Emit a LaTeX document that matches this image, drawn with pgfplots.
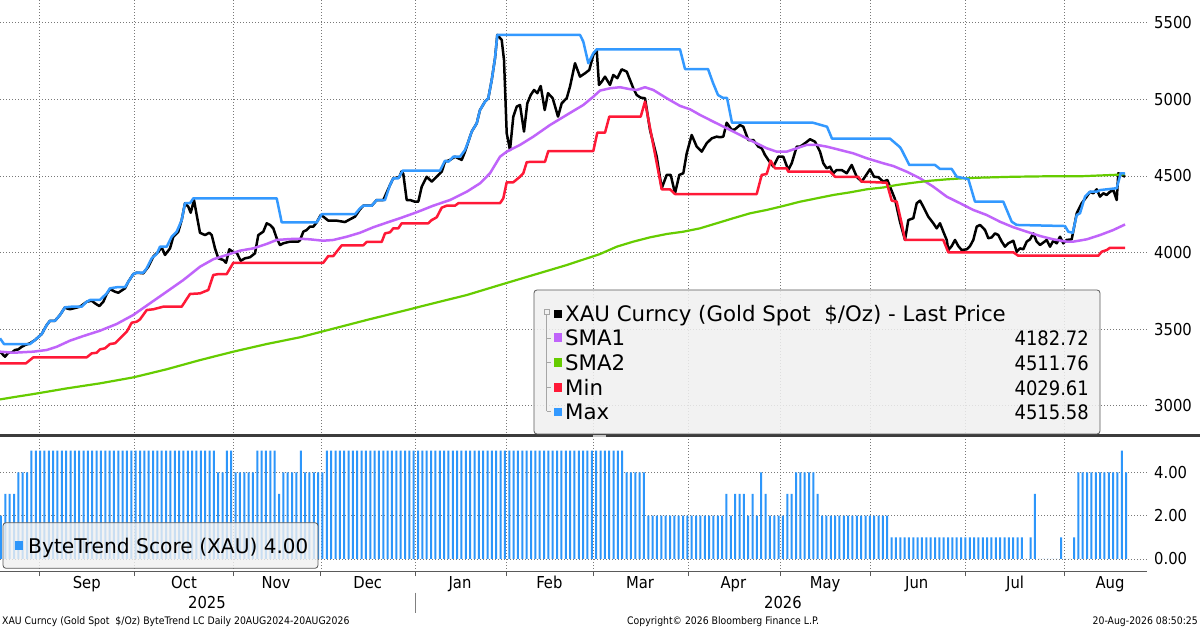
\documentclass[border=0pt]{standalone}
\usepackage{pgfplots}
\pgfplotsset{compat=1.18}
\usepackage{fontspec}
\setmainfont{DejaVu Sans Condensed}
\newfontfamily\wide{DejaVu Sans}
\definecolor{maxblue}{RGB}{51,153,255}
\definecolor{barblue}{RGB}{45,150,250}
\definecolor{minred}{RGB}{255,25,55}
\definecolor{smapurple}{RGB}{192,100,250}
\definecolor{smagreen}{RGB}{102,204,0}
\definecolor{gridgray}{RGB}{120,120,120}
\definecolor{sepgray}{RGB}{60,60,60}
\definecolor{axgray}{RGB}{90,90,90}
\definecolor{legfill}{RGB}{240,240,240}
\definecolor{legdraw}{RGB}{90,90,90}
\newcommand{\ticksize}{\fontsize{16.5}{18}\selectfont}
\newcommand{\legsize}{\fontsize{21.4}{23}\selectfont\wide}
\newcommand{\legsizeb}{\fontsize{20.3}{23}\selectfont\wide}
\newcommand{\legnum}{\fontsize{20}{22}\selectfont}
\newcommand{\footsize}{\fontsize{10.4}{12}\selectfont}
\pgfplotsset{
  bbgrid/.style={grid=major, major grid style={draw=gridgray, line width=0.9bp, dash pattern=on 1bp off 2bp}},
}
\begin{document}
\begin{tikzpicture}
\fill[white] (0bp,0bp) rectangle (1200bp,627bp);
% ---------------- top panel ----------------
\begin{axis}[
  at={(0bp,191bp)}, anchor=south west,
  width=1147bp, height=436bp, scale only axis,
  xmin=0, xmax=1147, ymin=2801, ymax=5650,
  axis line style={draw=none},
  bbgrid,
  xtick={39.3,134.7,233.3,321,415.5,506.7,593.3,688.3,780,870,965.7,1064.7},
  xticklabels={},
  xtick style={draw=none},
  ytick={3000,3500,4000,4500,5000,5500},
  ytick style={draw=none},
  yticklabel pos=right,
  yticklabel style={anchor=west, font=\ticksize, inner sep=0pt, xshift=7bp},
  /pgf/number format/assume math mode=true,
  /pgf/number format/1000 sep={},
  line join=round,
]
% Last price
\addplot[black, line width=2.5bp] coordinates {
(0,3352) (3.3,3330) (5,3319) (8.3,3345) (11.7,3345) (15,3363) (18.3,3367) (21.7,3384) (25,3395) (30,3407)
(35,3428) (41.7,3467) (46.7,3526) (50,3554) (55,3554) (60,3592) (65,3642) (66.7,3635) (70,3629) (80,3646)
(86.7,3678) (91.7,3685) (95,3668) (99.3,3650) (103.3,3678) (106.7,3729) (110,3761) (115,3744) (118.3,3737) (125,3766)
(128.3,3809) (133.3,3859) (136.7,3868) (143.3,3864) (148.3,3907) (153.3,3973) (158.3,4005) (161.7,4034) (165,3984) (170,4027)
(173.3,4103) (178.3,4136) (181.7,4212) (185,4322) (188.3,4299) (190.7,4260) (194,4343) (196.7,4245) (200,4129) (205,4114)
(209.3,4129) (211.7,4114) (215,4027) (218.3,3962) (223.3,3951) (226,3933) (229.3,4021) (232.7,4005) (236.7,3999) (240.7,3946)
(245,3962) (250,3969) (255,3995) (258.3,4114) (263.3,4136) (266.7,4191) (270,4180) (273.3,4158) (276.7,4093) (280,4049)
(283.3,4060) (290,4071) (298.3,4071) (300,4080) (303.3,4136) (306.7,4147) (310,4169) (313.3,4169) (316.7,4197) (320.7,4245)
(323.3,4234) (328.3,4208) (336.7,4208) (345,4199) (350,4217) (355,4234) (360,4282) (363.3,4306) (371.7,4306) (376.7,4343)
(383.3,4343) (390,4441) (393.3,4485) (399.3,4492) (401.5,4530) (403.3,4513) (406.7,4343) (410,4343) (415,4332) (418.3,4332)
(421.7,4430) (426.7,4495) (431.7,4463) (436.7,4495) (441.7,4528) (445,4593) (450,4605) (455,4626) (461.7,4605) (465,4659)
(468.3,4724) (471.7,4790) (476.7,4844) (480,4931) (485,4986) (488.3,5008) (491.7,5127) (495,5269) (497.3,5422) (501.7,5389)
(504,5258) (506.7,4779) (510,4670) (513.3,4888) (516.7,4953) (520,4964) (524,4790) (527.3,4975) (530.7,5029) (534,5062)
(537.3,5041) (540.7,5088) (544.7,4931) (548,5041) (552.7,5008) (558,4888) (561.7,4975) (566.7,5008) (570,5084) (575,5237)
(580,5149) (585,5171) (589.3,5193) (593.3,5291) (596.7,5324) (599,5095) (601.7,5116) (605,5149) (610,5095) (613.3,5160)
(617.3,5139) (621.7,5197) (626.7,5182) (633.3,5073) (636.7,5029) (640.7,5012) (645,5008) (650,4801) (656.7,4626) (661.7,4420)
(666.7,4507) (670.7,4507) (675,4387) (679.3,4507) (683.3,4518) (686.7,4648) (691.7,4768) (696.7,4692) (701.7,4659) (706.7,4714)
(711.7,4746) (716.7,4757) (720,4753) (723.3,4757) (726.7,4848) (731.7,4801) (735,4805) (740,4833) (743.3,4822) (748.3,4735)
(753.3,4735) (758.3,4692) (761.7,4681) (765,4637) (768.3,4605) (773.3,4561) (778.3,4626) (783.3,4626) (788.3,4539) (791.7,4583)
(796.7,4692) (800,4692) (805,4714) (810,4740) (815,4724) (820,4659) (823.3,4583) (826.7,4550) (830,4561) (833.3,4518)
(836.7,4539) (841.7,4539) (846.7,4518) (851.7,4572) (856.7,4495) (861.7,4463) (865,4495) (870,4544) (874,4495) (878.3,4492)
(883.3,4463) (887.3,4474) (890,4430) (895,4348) (900,4200) (905,4082) (908.3,4212) (913.3,4224) (916.7,4322) (920,4339)
(923.3,4299) (928.3,4234) (933.3,4191) (936.7,4158) (940,4191) (943.3,4136) (946.7,4082) (948.3,4016) (951.7,4042) (955,4082)
(958.3,4042) (961.7,4016) (966.7,4021) (970,4042) (973.3,4082) (976.7,4169) (980,4180) (985,4147) (988.3,4093) (991.7,4099)
(995,4125) (998.3,4114) (1001.7,4071) (1005,4038) (1008.3,4060) (1013.3,4077) (1016.7,4005) (1020,4027) (1023.3,4021) (1026.7,4071)
(1030,4086) (1033.3,4125) (1036.7,4071) (1040,4049) (1046.7,4082) (1050,4038) (1053.3,4077) (1056.7,4060) (1060,4103) (1063.3,4060)
(1066.7,4082) (1071.7,4086) (1076.7,4256) (1081.7,4322) (1086.7,4365) (1090,4397) (1093.3,4387) (1096.7,4413) (1100,4365) (1103.3,4387)
(1106.7,4376) (1110,4397) (1113.3,4408) (1116.7,4343) (1118.3,4518) (1121.7,4507) (1125,4495)
};
% SMA1
\addplot[smapurple, line width=2.5bp] coordinates {
(0,3352) (13.3,3345) (33.3,3352) (46.7,3363) (56.7,3384) (70,3424) (83.3,3454) (100,3489) (116.7,3533) (133.3,3592)
(150,3668) (166.7,3744) (183.3,3820) (200,3907) (213.3,3956) (226.7,3984) (240,4012) (253.3,4027) (266.7,4056) (276.7,4082)
(290,4088) (300,4090) (310,4086) (323.3,4077) (333.3,4082) (346.7,4103) (360,4129) (373.3,4165) (386.7,4195) (400,4224)
(416.7,4263) (433.3,4306) (450,4343) (466.7,4397) (480,4452) (490,4518) (500,4626) (506.7,4659) (520,4703) (533.3,4757)
(550,4833) (566.7,4899) (583.3,4964) (593.3,5018) (600,5058) (610,5073) (620,5080) (630,5067) (636.7,5062) (645,5080)
(653.3,5062) (666.7,5008) (680,4958) (690,4936) (700,4899) (713.3,4855) (726.7,4812) (740,4768) (753.3,4724) (766.7,4681)
(776.7,4659) (786.7,4659) (796.7,4681) (806.7,4703) (816.7,4703) (826.7,4692) (840,4670) (853.3,4648) (866.7,4616) (883.3,4583)
(893.3,4565) (906.7,4528) (920,4485) (933.3,4430) (946.7,4365) (960,4322) (973.3,4278) (986.7,4245) (1000,4201) (1013.3,4165)
(1026.7,4136) (1040,4108) (1053.3,4086) (1066.7,4071) (1073.3,4071) (1086.7,4086) (1100,4114) (1113.3,4147) (1125,4183)
};
% SMA2
\addplot[smagreen, line width=2.2bp] coordinates {
(0,3040) (16.7,3058) (33.3,3075) (66.7,3112) (100,3145) (133.3,3184) (166.7,3237) (200,3297) (233.3,3352) (266.7,3402)
(300,3446) (366.7,3559) (400,3613) (433.3,3668) (466.7,3722) (500,3788) (533.3,3853) (566.7,3918) (600,3990) (616.7,4038)
(633.3,4071) (650,4099) (666.7,4121) (683.3,4136) (700,4158) (716.7,4191) (733.3,4224) (750,4256) (766.7,4278) (783.3,4304)
(800,4332) (816.7,4354) (833.3,4376) (850,4393) (866.7,4413) (883.3,4425) (896.7,4441) (913.3,4456) (930,4469) (946.7,4478)
(963.3,4485) (980,4489) (1013.3,4495) (1046.7,4498) (1080,4498) (1113.3,4507) (1125,4511)
};
% Min
\addplot[minred, line width=2.5bp] coordinates {
(0,3276) (26,3276) (33.3,3315) (86.7,3315) (91.7,3341) (96.7,3345) (100,3367) (105,3374) (110,3402) (115,3407)
(121.7,3450) (126.7,3482) (131.7,3541) (136.7,3548) (140,3563) (146.7,3624) (153.3,3629) (163.3,3646) (181.7,3646) (190,3729)
(200,3733) (208.3,3755) (213.3,3853) (218.3,3859) (226.7,3859) (233.3,3933) (323.3,3933) (328.3,3977) (333.3,3977) (341.7,4047)
(363.3,4047) (366.7,4069) (381.7,4069) (385,4125) (390,4132) (393.3,4158) (398.3,4158) (401.7,4191) (428.3,4191) (431.7,4212)
(436.7,4230) (441.7,4293) (446.7,4306) (455,4306) (458.3,4322) (500,4322) (503.3,4354) (506.7,4459) (513.3,4459) (520,4495)
(523.3,4518) (526.7,4590) (531.7,4593) (545,4593) (548.3,4663) (593.3,4663) (597.3,4783) (605,4783) (609.3,4888) (640.7,4888)
(645,4986) (661.7,4413) (670,4413) (675,4382) (756.7,4382) (761.7,4507) (766.7,4513) (770.7,4600) (775,4550) (786.7,4550)
(788.3,4528) (830,4528) (835,4495) (858.3,4495) (861.7,4463) (886.7,4456) (891.7,4339) (896.7,4332) (902,4180) (905,4082)
(943.3,4082) (948.3,4001) (1013.3,4001) (1018.3,3979) (1098.3,3979) (1101.7,4005) (1106.7,4016) (1110,4031) (1125,4031)
};
% Max
\addplot[maxblue, line width=2.5bp] coordinates {
(0,3439) (4,3402) (30,3402) (35,3428) (41.7,3467) (46.7,3526) (50,3554) (55,3554) (60,3592) (65,3642)
(71.7,3646) (81.7,3646) (86.7,3678) (90,3690) (100,3690) (106.7,3733) (110,3766) (116.7,3773) (125,3773) (128.3,3809)
(133.3,3859) (136.7,3868) (143.3,3868) (146.7,3897) (151.7,3962) (156.7,3990) (160,4038) (166.7,4038) (171.7,4103) (176.7,4136)
(181.7,4212) (185,4322) (190,4322) (193.3,4354) (276.7,4354) (281.7,4197) (316.7,4197) (321.7,4250) (355,4250) (360,4289)
(363.3,4306) (371.7,4306) (376.7,4343) (385,4343) (390,4441) (393.3,4485) (398.3,4485) (402.7,4535) (440,4535) (445,4600)
(448.3,4593) (453.3,4626) (460,4626) (465,4670) (468.3,4724) (471.7,4790) (476.7,4844) (480,4931) (485,4986) (488.3,5008)
(491.7,5127) (495,5269) (497.3,5422) (580,5422) (583.3,5378) (588.3,5237) (593.3,5302) (596.7,5328) (680,5328) (685,5199)
(708,5199) (713,5108) (718,5029) (723,5010) (727,5010) (732,4848) (813,4848) (827,4822) (832,4744) (890,4744)
(900,4688) (901.7,4670) (909.3,4572) (935,4572) (940,4546) (951.7,4546) (956.7,4495) (968.3,4480) (975,4332) (1003.3,4332)
(1011.7,4201) (1016.7,4180) (1065,4173) (1068.3,4136) (1072.7,4129) (1076.7,4245) (1080,4256) (1085,4365) (1090,4397) (1096.7,4397)
(1100,4408) (1116.7,4420) (1120.7,4518) (1125,4516)
};
\end{axis}
% ---------------- bottom panel ----------------
\begin{axis}[
  at={(0bp,55bp)}, anchor=south west,
  width=1147bp, height=134bp, scale only axis,
  xmin=-0.23, xmax=263.8, ymin=-0.6, ymax=5.58,
  axis line style={draw=none},
  bbgrid,
  xtick={8.82,30.78,53.48,73.66,95.42,116.41,136.35,158.22,179.33,200.05,222.08,244.87},
  xticklabels={},
  xtick pos=left,
  xtick align=outside,
  xtick style={draw=axgray, line width=1bp},
  major tick length=4bp,
  extra x ticks={19.73,42.13,63.31,84.42,105.66,126.22,147.10,168.58,189.69,210.80,233.43,255.29},
  extra x tick labels={Sep,Oct,Nov,Dec,Jan,Feb,Mar,Apr,May,Jun,Jul,Aug},
  extra x tick style={grid=none, major tick length=0pt, xticklabel style={anchor=base, font=\ticksize, yshift=-16bp, inner sep=0pt}},
  ytick={0,2,4},
  ytick style={draw=none},
  yticklabel pos=right,
  yticklabel style={anchor=west, font=\ticksize, inner sep=0pt, xshift=7bp, /pgf/number format/.cd, fixed, fixed zerofill, precision=2},
  /pgf/number format/assume math mode=true,
]
\addplot[ybar, bar width=2bp, fill=barblue, draw=none] coordinates {
(0,2)(1,3)(2,3)(3,3)(4,4)(5,4)(6,4)(7,5)(8,5)(9,5)
(10,5)(11,5)(12,5)(13,5)(14,5)(15,5)(16,5)(17,5)(18,5)(19,5)
(20,5)(21,5)(22,5)(23,5)(24,5)(25,5)(26,5)(27,5)(28,5)(29,5)
(30,5)(31,5)(32,5)(33,5)(34,5)(35,5)(36,5)(37,5)(38,5)(39,5)
(40,5)(41,5)(42,5)(43,5)(44,5)(45,5)(46,5)(47,5)(48,5)(49,5)
(50,4)(51,4)(52,5)(53,5)(54,4)(55,4)(56,4)(57,4)(58,4)(59,5)
(60,5)(61,5)(62,5)(63,5)(64,3)(65,4)(66,4)(67,4)(68,4)(69,5)
(70,4)(71,4)(72,4)(73,4)(74,4)(75,5)(76,5)(77,5)(78,5)(79,5)
(80,5)(81,5)(82,5)(83,5)(84,5)(85,5)(86,5)(87,5)(88,5)(89,5)
(90,5)(91,5)(92,5)(93,5)(94,5)(95,5)(96,5)(97,5)(98,5)(99,5)
(100,5)(101,5)(102,5)(103,5)(104,5)(105,5)(106,5)(107,5)(108,5)(109,5)
(110,5)(111,5)(112,5)(113,5)(114,5)(115,5)(116,5)(117,5)(118,5)(119,5)
(120,5)(121,5)(122,5)(123,5)(124,5)(125,5)(126,5)(127,5)(128,5)(129,5)
(130,5)(131,5)(132,5)(133,5)(134,5)(135,5)(136,5)(137,5)(138,5)(139,5)
(140,5)(141,5)(142,5)(143,5)(144,4)(145,4)(146,4)(147,4)(148,4)(149,2)
(150,2)(151,2)(152,2)(153,2)(154,2)(155,2)(156,2)(157,2)(158,2)(159,2)
(160,2)(161,2)(162,2)(163,2)(164,2)(165,2)(166,2)(167,3)(168,2)(169,3)
(170,3)(171,3)(172,2)(173,3)(174,2)(175,4)(176,3)(177,2)(178,2)(179,2)
(180,2)(181,3)(182,3)(183,4)(184,4)(185,4)(186,4)(187,4)(188,3)(189,2)
(190,2)(191,2)(192,2)(193,2)(194,2)(195,2)(196,2)(197,2)(198,2)(199,2)
(200,2)(201,2)(202,2)(203,2)(204,2)(205,1)(206,1)(207,1)(208,1)(209,1)
(210,1)(211,1)(212,1)(213,1)(214,1)(215,1)(216,1)(217,1)(218,1)(219,1)
(220,1)(221,1)(222,1)(223,1)(224,1)(225,1)(226,1)(227,1)(228,1)(229,1)
(230,1)(231,1)(232,1)(233,1)(234,1)(235,1)(236,0)(237,1)(238,3)(239,0)
(240,0)(241,0)(242,0)(243,0)(244,1)(245,0)(246,0)(247,1)(248,4)(249,4)
(250,4)(251,4)(252,4)(253,4)(254,4)(255,4)(256,4)(257,4)(258,5)(259,4)
};
\draw[axgray, line width=1.5bp] (rel axis cs:0,0) -- (rel axis cs:1,0);
\end{axis}
\begin{scope}[x=1bp,y=1bp]
% separator between panels
\fill[sepgray] (0,189.5) rectangle (1200,192.5);
\fill[gray!45] (593,189.5) rectangle (606,192.2);
% top legend
\draw[legdraw, line width=0.8bp, fill=legfill, fill opacity=0.85, rounded corners=3bp] (534,193) rectangle (1100,337);
\draw[gray!70, line width=0.8bp] (544,312.5) rectangle (549,317.5);
\draw[gray!70, line width=0.8bp] (546.5,312.5) -- (546.5,215.5);
\foreach \yy in {289,265,240,215.5} \draw[gray!70, line width=0.8bp] (546.5,\yy) -- (551,\yy);
\fill[black] (554,308.6) rectangle (562,317);
\fill[smapurple] (554,285.3) rectangle (562,293.7);
\fill[smagreen] (554,260.3) rectangle (562,268.7);
\fill[minred] (554,235.3) rectangle (562,243.7);
\fill[maxblue] (554,211) rectangle (562,219.4);
\node[anchor=base west, inner sep=0pt, font=\legsize] at (565,305.3) {XAU Curncy (Gold Spot\ \ \$/Oz) - Last Price};
\node[anchor=base west, inner sep=0pt, font=\legsize] at (565,282) {SMA1};
\node[anchor=base west, inner sep=0pt, font=\legsize] at (565,257) {SMA2};
\node[anchor=base west, inner sep=0pt, font=\legsize] at (565,232) {Min};
\node[anchor=base west, inner sep=0pt, font=\legsize] at (565,207.7) {Max};
\node[anchor=base east, inner sep=0pt, font=\legnum] at (1089,282) {4182.72};
\node[anchor=base east, inner sep=0pt, font=\legnum] at (1089,257) {4511.76};
\node[anchor=base east, inner sep=0pt, font=\legnum] at (1089,232) {4029.61};
\node[anchor=base east, inner sep=0pt, font=\legnum] at (1089,207.7) {4515.58};
% bottom legend
\draw[legdraw, line width=0.8bp, fill=legfill, fill opacity=0.8, rounded corners=3bp] (3,58.7) rectangle (318,104.3);
\fill[barblue] (15,77) rectangle (23,86.3);
\node[anchor=base west, inner sep=0pt] at (28,74) {\legsizeb ByteTrend Score (XAU) \legnum 4.00};
% years
\node[anchor=base, inner sep=0pt, font=\ticksize] at (207,19) {2025};
\node[anchor=base, inner sep=0pt, font=\ticksize] at (783,19) {2026};
\draw[gray, line width=1bp] (415.7,34.3) -- (415.7,14.3);
% footer
\node[anchor=base west, inner sep=0pt, font=\footsize] at (2,3) {XAU Curncy (Gold Spot\ \ \$/Oz) ByteTrend LC Daily 20AUG2024-20AUG2026};
\node[anchor=base west, inner sep=0pt, font=\footsize] at (627,3) {Copyright© 2026 Bloomberg Finance L.P.};
\node[anchor=base east, inner sep=0pt, font=\footsize] at (1198,3) {20-Aug-2026 08:50:25};
\end{scope}
\pgfresetboundingbox
\useasboundingbox (0bp,0bp) rectangle (1200bp,627bp);
\end{tikzpicture}
\end{document}
